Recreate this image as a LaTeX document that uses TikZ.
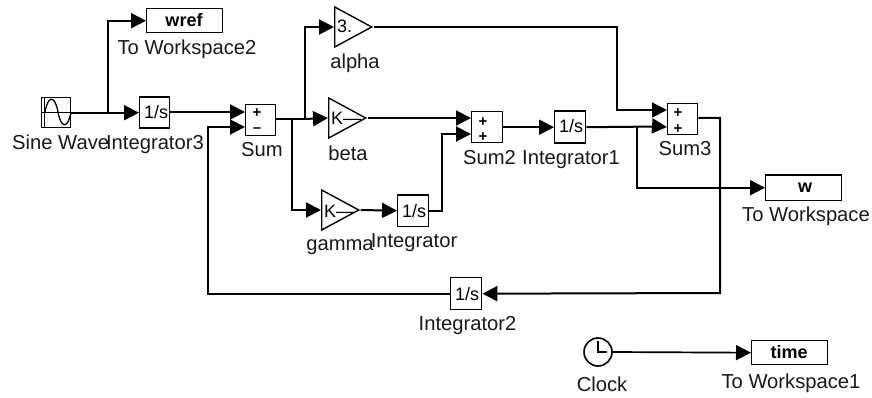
\documentclass[tikz,border=0pt]{standalone}
\usepackage{fontspec}
\setmainfont{Liberation Sans}
\usetikzlibrary{arrows.meta,shapes.geometric}
\tikzset{
  x=1pt,y=-1pt,
  blk/.style={draw=black,line width=1.4pt,fill=white,inner sep=0pt,anchor=north west},
  tri/.style={draw=black,line width=1.4pt,fill=white,isosceles triangle,isosceles triangle stretches,
     inner sep=0pt,anchor=west,minimum width=40pt,minimum height=37pt},
  lab/.style={font=\fontsize{20.2}{22}\selectfont,anchor=base,inner sep=0pt,text=black!90},
  intxt/.style={font=\fontsize{18}{20}\selectfont,anchor=base,inner sep=0pt},
  boldtxt/.style={font=\fontsize{18}{20}\selectfont\bfseries,anchor=base,inner sep=0pt},
  sgn/.style={font=\fontsize{15}{15}\selectfont\bfseries,inner sep=0pt},
  wire/.style={draw=black,line width=2pt,line join=miter},
  arr/.style={wire,-{Triangle[length=15pt,width=15pt]}},
}
\newcommand{\blockbox}[5]{\node[blk,minimum width=#4pt,minimum height=#5pt] (#1) at (#2,#3) {};}
\begin{document}
\begin{tikzpicture}
\useasboundingbox (0,0) rectangle (872,398);
\fill[white] (0,0) rectangle (872,398);

% free wire points
\coordinate (sumA) at (245,112);
\coordinate (sumB) at (245,127);
\coordinate (sumOut) at (275,119);
\coordinate (sumTwoA) at (471,118);
\coordinate (sumTwoB) at (471,134);
\coordinate (sumThrA) at (667,110);
\coordinate (sumThrB) at (667,127);
\coordinate (jSine) at (108,112);
\coordinate (jAlpha) at (305,119);
\coordinate (jGamma) at (292,119);
\coordinate (jInt) at (637,126.5);

% blocks
\blockbox{sine}{41}{97}{29}{30}
\blockbox{wref}{146}{8}{76}{24}
\blockbox{intc}{139}{96.5}{30}{31}
\blockbox{sum}{245}{104}{30}{31}
\node[tri] (alpha) at (334,27) {};
\node[tri] (beta) at (328,118) {};
\node[tri] (gamma) at (321,210) {};
\blockbox{inta}{397}{194.5}{31}{31}
\blockbox{sumtwo}{471}{111}{31}{31}
\blockbox{intb}{554}{110.5}{31}{32}
\blockbox{sumthr}{667}{103}{30}{31}
\blockbox{wout}{765}{174.5}{76}{25}
\blockbox{intd}{450}{277}{31}{32}
\node[draw=black,line width=1.6pt,circle,minimum size=28pt,inner sep=0pt,fill=white] (clock) at (598,352) {};
\blockbox{timeb}{751}{340}{76}{24}

% connectors
\draw[arr] (sine.east) -- (intc.west);
\draw[arr] (jSine) |- (wref.west);
\draw[arr] (intc.east |- sumA) -- (sumA);
\draw[wire] (sumOut) -- (jAlpha);
\draw[arr] (jAlpha) -- (beta.west);
\draw[arr] (jAlpha) |- (alpha.west);
\draw[arr] (jGamma) |- (gamma.west);
\draw[arr] (gamma.east) -- (inta.west);
\draw[arr] (beta.east) -- (sumTwoA);
\draw[arr] (inta.east) -| (442,134) -- (sumTwoB);
\draw[arr] (sumtwo.east) -- (intb.west);
\draw[arr] (intb.east) -- (660,126.5) -- (sumThrB);
\draw[arr] (alpha.east) -| (617,110) -- (sumThrA);
\draw[arr] (jInt) |- (wout.west);
\draw[arr] (sumthr.east |- 0,118) -| (720,293) -- (intd.east);
\draw[arr] (intd.west) -| (208,127) -- (sumB);
\draw[arr,line width=1.7pt] (clock.east) -- (timeb.west);

% icons
\draw[line width=.9pt] (41,112) -- (70,112) (44,97) -- (44,127);
\draw[line width=1.3pt] (45,112) .. controls (48,95) and (55,95) .. (58,112) .. controls (61,129) and (68,129) .. (71,112);
\draw[line width=1.4pt] (598,341) -- (598,352) -- (607,352);

% block texts
\node[intxt,anchor=base west] (tA) at (144,119) {1/s};
\node[intxt,anchor=base west] (tB) at (402,217) {1/s};
\node[intxt,anchor=base west] (tC) at (559,133) {1/s};
\node[intxt,anchor=base west] (tD) at (455,300) {1/s};
\node[intxt,anchor=base west] (tE) at (337,33) {3.};
\node[intxt,anchor=base west] (tF) at (331,125) {K---};
\node[intxt,anchor=base west] (tG) at (324,217) {K---};
\node[boldtxt] (tH) at (184,26.5) {wref};
\node[boldtxt] (tI) at (805,193) {w};
\node[boldtxt] (tJ) at (789,358.5) {time};
\node[sgn] (sA) at (257,113) {+};
\node[sgn] (sB) at (257,130) {--};
\node[sgn] (sC) at (483,122) {+};
\node[sgn] (sD) at (483,137) {+};
\node[sgn] (sE) at (678,113) {+};
\node[sgn] (sF) at (678,129) {+};

% labels
\node[lab] (lA) at (187,55) {To Workspace2};
\node[lab,anchor=base west] (lB) at (12,150) {Sine Wave};
\node[lab,anchor=base east] (lC) at (204,150) {Integrator3};
\node[lab] (lD) at (262,157) {Sum};
\node[lab] (lE) at (355,69) {alpha};
\node[lab] (lF) at (348,161) {beta};
\node[lab] (lG) at (340,250) {gamma};
\node[lab] (lH) at (414,247) {Integrator};
\node[lab] (lI) at (489.5,165) {Sum2};
\node[lab] (lJ) at (571,165) {Integrator1};
\node[lab] (lK) at (685,156) {Sum3};
\node[lab] (lL) at (806,221) {To Workspace};
\node[lab] (lM) at (467.5,330) {Integrator2};
\node[lab] (lN) at (602,391) {Clock};
\node[lab] (lO) at (791,388) {To Workspace1};
\end{tikzpicture}
\end{document}
